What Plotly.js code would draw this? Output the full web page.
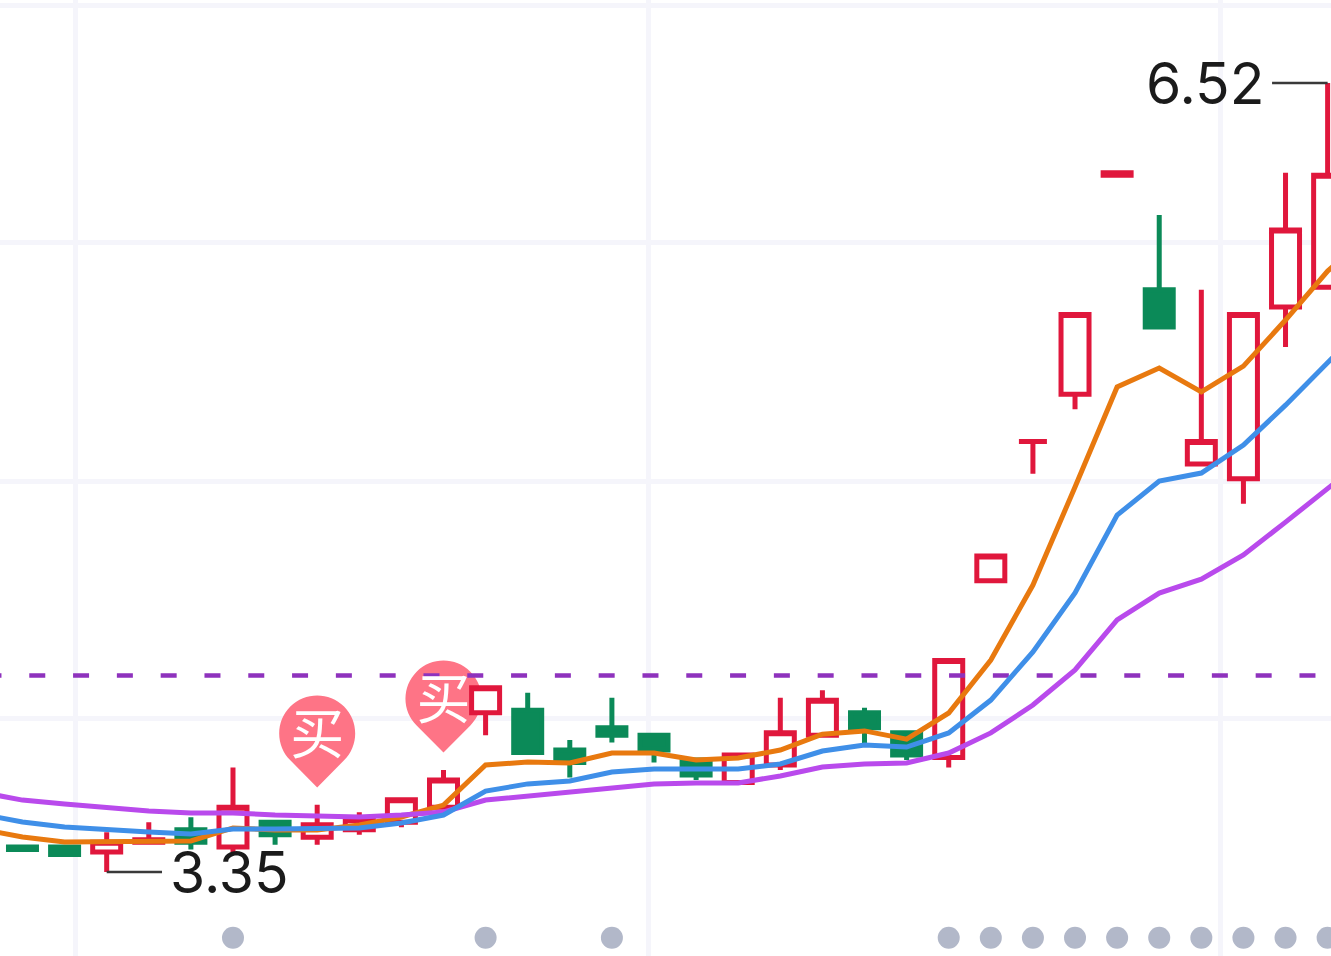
<!DOCTYPE html>
<html>
<head>
<meta charset="utf-8">
<script src="https://cdn.plot.ly/plotly-3.0.1.min.js"></script>
<style>html,body{margin:0;padding:0;background:#fff;overflow:hidden}#chart{width:1331px;height:956px}</style>
</head>
<body>
<div id="chart"></div>
<script>
var days  = [0,1,2,3,4,5,6,7,8,9,10,11,12,13,14,15,16,17,18,19,20,21,22,23,24,25,26,27,28,29,30,31];
var open  = [3.45,3.45,3.43,3.47,3.52,3.45,3.55,3.49,3.52,3.55,3.61,3.99,4.00,3.84,3.93,3.90,3.80,3.71,3.78,3.90,3.99,3.91,3.81,4.52,5.08,5.27,6.15,5.69,4.99,4.93,5.62,5.70];
var close = [3.44,3.42,3.47,3.48,3.47,3.61,3.50,3.54,3.56,3.64,3.72,4.09,3.83,3.79,3.90,3.84,3.74,3.82,3.91,4.04,3.93,3.82,4.20,4.62,5.08,5.59,6.16,5.54,5.08,5.59,5.93,6.15];
var high  = [3.45,3.45,3.51,3.55,3.57,3.77,3.55,3.62,3.59,3.64,3.76,4.09,4.07,3.88,4.05,3.90,3.81,3.83,4.05,4.08,4.01,3.91,4.20,4.62,5.08,5.59,6.16,5.99,5.69,5.59,6.16,6.52];
var low   = [3.43,3.42,3.35,3.46,3.44,3.43,3.46,3.46,3.50,3.53,3.60,3.90,3.83,3.73,3.87,3.79,3.72,3.70,3.76,3.90,3.86,3.80,3.77,4.51,4.95,5.21,6.15,5.54,4.99,4.83,5.46,5.70];

var maDays = [-1,0,1,2,3,4,5,6,7,8,9,10,11,12,13,14,15,16,17,18,19,20,21,22,23,24,25,26,27,28,29,30,31,32];
var ma5  = [3.523,3.491,3.471,3.471,3.475,3.475,3.527,3.519,3.519,3.539,3.571,3.619,3.780,3.792,3.788,3.828,3.828,3.800,3.808,3.840,3.904,3.917,3.884,3.989,4.202,4.503,4.897,5.299,5.375,5.279,5.383,5.568,5.765,5.909];
var ma10 = [3.583,3.551,3.531,3.519,3.511,3.503,3.523,3.523,3.523,3.527,3.547,3.579,3.675,3.704,3.716,3.752,3.764,3.764,3.764,3.784,3.836,3.860,3.852,3.909,4.041,4.234,4.471,4.784,4.921,4.953,5.066,5.226,5.399,5.568];
var ma20 = [3.671,3.639,3.623,3.607,3.595,3.587,3.587,3.579,3.575,3.571,3.579,3.591,3.639,3.655,3.667,3.688,3.704,3.708,3.708,3.736,3.772,3.784,3.788,3.828,3.909,4.021,4.162,4.363,4.471,4.527,4.624,4.756,4.893,5.026];

var refLineX = [-0.879, 33];
var refLineY = [4.14, 4.14];

var buyDays = [7, 10];
var buyTips = [3.69, 3.83];
var buyLabel = "买";

var dotDays = [5,11,14,22,23,24,25,26,27,28,29,30,31];
var dotLevel = 3.086;

var lowLabel = "3.35",  lowDay = 2,   lowPrice = 3.35, lowLineEnd = 3.314,  lowTextDay = 3.49;
var highLabel = "6.52", highDay = 31, highPrice = 6.52, highLineEnd = 29.68, highTextDay = 29.51;

var gridX = [1.27, 14.86, 28.45];
var gridY = [3.016, 3.965, 4.921, 5.881, 6.832];

var RED = "#e0173c", GREEN = "#0b8a58";

function pin(x, y) {
  return {
    type: "path", layer: "between",
    xsizemode: "pixel", ysizemode: "pixel", xanchor: x, yanchor: y, xref: "x", yref: "y",
    path: "M 0 0 L 26.87 27.13 C 41.71 41.97 41.71 66.03 26.87 80.87 C 12.03 95.71 -12.03 95.71 -26.87 80.87 C -41.71 66.03 -41.71 41.97 -26.87 27.13 Z",
    fillcolor: "#fe7486", line: {width: 0}
  };
}

var traces = [
  {type: "candlestick", x: days, open: open, high: high, low: low, close: close,
   increasing: {line: {color: RED, width: 5}, fillcolor: "#ffffff"},
   decreasing: {line: {color: GREEN, width: 5}, fillcolor: GREEN},
   whiskerwidth: 0, showlegend: false, hoverinfo: "skip"},
  {type: "scatter", mode: "lines", x: refLineX, y: refLineY,
   line: {color: "#8e32bd", width: 4.5, dash: "16px,27.8px"}, hoverinfo: "skip"},
  {type: "scatter", mode: "lines", x: maDays, y: ma5, line: {color: "#e8790f", width: 5}, hoverinfo: "skip"},
  {type: "scatter", mode: "lines", x: maDays, y: ma20, line: {color: "#b94aec", width: 5}, hoverinfo: "skip"},
  {type: "scatter", mode: "lines", x: maDays, y: ma10, line: {color: "#3f8fe8", width: 5}, hoverinfo: "skip"},
  {type: "scatter", mode: "text", x: buyDays, y: buyTips.map(function (v) { return v + 0.188; }),
   text: buyDays.map(function () { return buyLabel; }), textposition: "middle center",
   textfont: {family: "'Noto Sans CJK SC'", size: 54, color: "#ffffff"}, hoverinfo: "skip"},
  {type: "scatter", mode: "markers", x: dotDays, y: dotDays.map(function () { return dotLevel; }),
   marker: {color: "#b2b8c9", size: 22}, hoverinfo: "skip"},
  {type: "scatter", mode: "lines", x: [lowDay, lowLineEnd], y: [lowPrice, lowPrice],
   line: {color: "#3a3a3a", width: 2.5}, hoverinfo: "skip"},
  {type: "scatter", mode: "lines", x: [highDay, highLineEnd], y: [highPrice, highPrice],
   line: {color: "#3a3a3a", width: 2.5}, hoverinfo: "skip"}
];

var labelFont = {family: "Inter", size: 57, color: "#1b1b1b"};

var layout = {
  width: 1331, height: 956,
  margin: {l: 0, r: 0, t: 0, b: 0, pad: 0},
  paper_bgcolor: "#ffffff", plot_bgcolor: "#ffffff",
  showlegend: false, hovermode: false, boxgap: 0.05,
  xaxis: {type: "linear", range: [-0.534, 31.08], tickmode: "array", tickvals: gridX, showticklabels: false,
          ticks: "", showgrid: true, gridcolor: "#f5f5fb", gridwidth: 5, zeroline: false, showline: false,
          rangeslider: {visible: false}},
  yaxis: {type: "linear", range: [3.0125, 6.854], tickmode: "array", tickvals: gridY, showticklabels: false,
          ticks: "", showgrid: true, gridcolor: "#f5f5fb", gridwidth: 5, zeroline: false, showline: false},
  shapes: buyDays.map(function (d, k) { return pin(d, buyTips[k]); }),
  annotations: [
    {x: lowTextDay, y: lowPrice, xref: "x", yref: "y", xanchor: "left", yanchor: "middle",
     text: lowLabel, showarrow: false, font: labelFont, borderpad: 0},
    {x: highTextDay, y: highPrice, xref: "x", yref: "y", xanchor: "right", yanchor: "middle",
     text: highLabel, showarrow: false, font: labelFont, borderpad: 0}
  ]
};

Plotly.newPlot("chart", traces, layout, {displayModeBar: false, staticPlot: true});
</script>
</body>
</html>
